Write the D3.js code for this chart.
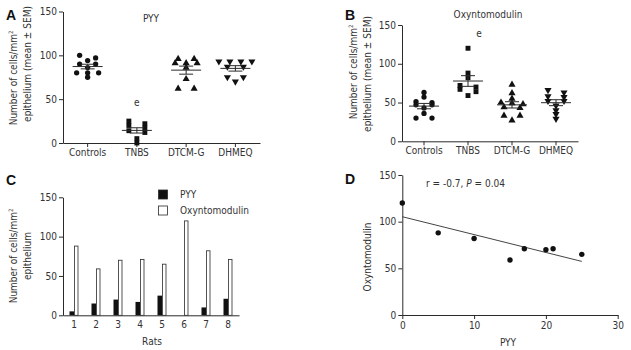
<!doctype html>
<html lang="en">
<head>
<meta charset="utf-8">
<title>PYY and oxyntomodulin</title>
<script src="https://cdn.jsdelivr.net/npm/d3@7"></script>
<style>
  body { margin: 0; background: #fff; }
  svg { display: block; font-family: "DejaVu Sans Condensed", "DejaVu Sans", sans-serif; }
</style>
</head>
<body>
<svg id="chart" width="631" height="350"></svg>
<script>
// group names (panels A, B)
const groups = ["Controls", "TNBS", "DTCM-G", "DHMEQ"];

// PYY cells / mm2 per animal
const pyyControls = [100, 97, 94, 90, 90, 86, 80, 80, 80, 75];
const pyyTnbs = [25, 22, 20, 17, 14, 12, 5, 0];
const pyyDtcmg = [96, 96, 91, 91, 91, 86, 73, 62, 62];
const pyyDhmeq = [93, 93, 93, 93, 87, 87, 75, 75, 70];

// oxyntomodulin cells / mm2 per animal
const oxyControls = [63, 57, 51, 50, 47, 47, 43, 36, 30, 30];
const oxyTnbs = [120, 88, 82, 72, 70, 67, 64, 59];
const oxyDtcmg = [73, 62, 55, 50, 49, 48, 44, 43, 33, 33, 27];
const oxyDhmeq = [66, 63, 58, 57, 52, 52, 46, 40, 35, 29];

// panel C / D : TNBS rats
const rats = ["1", "2", "3", "4", "5", "6", "7", "8"];
const ratPyy = [5, 15, 20, 17, 25, 0, 10, 21];
const ratOxy = [88, 59, 70, 71, 65, 120, 82, 71];

const cellTicks = [0, 50, 100, 150];
const pyyTicks = [0, 10, 20, 30];

const ink = "#2a2a2a";
const txt = "#333";
const fs = 10;

const svg = d3.select("#chart");

function styleAxis(g) {
  g.attr("font-family", null).attr("font-size", null);
  g.selectAll("path, line").attr("stroke", ink);
  g.selectAll("text").attr("fill", txt).attr("font-size", fs);
}

function panelLetter(s, x, y) {
  svg.append("text").attr("x", x).attr("y", y)
    .attr("font-family", "Liberation Sans, Arial, sans-serif")
    .attr("font-weight", "bold").attr("font-size", 14).attr("fill", "#111")
    .text(s);
}

function yLabel(lines) {
  lines.forEach(l => {
    const t = svg.append("text")
      .attr("transform", `translate(${l.x},${l.y}) rotate(-90)`)
      .attr("text-anchor", "middle").attr("font-size", fs).attr("fill", txt);
    if (l.sup) {
      t.append("tspan").text(l.text);
      t.append("tspan").attr("dy", -4).attr("font-size", 6).text("2");
    } else {
      t.text(l.text);
    }
  });
}

// spread points of similar height side by side, like a scatter dot plot
function spread(values, y, cx) {
  const order = values.map((v, i) => i).sort((a, b) => values[b] - values[a]);
  const rows = [];
  order.forEach(i => {
    const last = rows[rows.length - 1];
    if (last && Math.abs(y(values[last[0]]) - y(values[i])) < 3) last.push(i);
    else rows.push([i]);
  });
  const out = [];
  rows.forEach(r => {
    const step = r.length === 2 ? 16 : 11;
    r.forEach((i, k) => out.push({ v: values[i], x: cx + (k - (r.length - 1) / 2) * step }));
  });
  return out;
}

const symbols = [
  { type: d3.symbolCircle, size: 22, rot: 0 },
  { type: d3.symbolSquare, size: 24, rot: 0 },
  { type: d3.symbolTriangle, size: 22, rot: 0 },
  { type: d3.symbolTriangle, size: 22, rot: 180 }
];

function dotPanel(o) {
  const x = d3.scaleBand().domain(groups).range([o.x0, o.x1]);
  const y = d3.scaleLinear().domain([0, 150]).range([o.y0, o.y1]);
  const g = svg.append("g");

  g.append("g").attr("transform", `translate(0,${o.y0})`)
    .call(d3.axisBottom(x).tickSize(4).tickSizeOuter(0).tickPadding(2))
    .call(styleAxis);
  g.append("g").attr("transform", `translate(${o.x0},0)`)
    .call(d3.axisLeft(y).tickValues(cellTicks).tickSize(4).tickSizeOuter(0).tickPadding(2))
    .call(styleAxis);

  o.data.forEach((vals, gi) => {
    const cx = x(groups[gi]) + x.bandwidth() / 2;
    const sym = symbols[gi];
    g.selectAll(null).data(spread(vals, y, cx)).join("path")
      .attr("d", d3.symbol(sym.type, sym.size))
      .attr("transform", d => `translate(${d.x},${y(d.v)}) rotate(${sym.rot})`)
      .attr("fill", "#111");

    const m = d3.mean(vals);
    const sem = d3.deviation(vals) / Math.sqrt(vals.length);
    const bars = g.append("g").attr("stroke", ink).attr("stroke-width", 1);
    bars.append("line").attr("x1", cx - 15).attr("x2", cx + 15).attr("y1", y(m)).attr("y2", y(m));
    bars.append("line").attr("x1", cx).attr("x2", cx).attr("y1", y(m - sem)).attr("y2", y(m + sem));
    [m - sem, m + sem].forEach(v => bars.append("line")
      .attr("x1", cx - 7).attr("x2", cx + 7).attr("y1", y(v)).attr("y2", y(v)));
  });
  return { x, y };
}

// ---- A : PYY
panelLetter("A", 6, 20);
const a = dotPanel({ x0: 63, x1: 260, y0: 143, y1: 11.5, data: [pyyControls, pyyTnbs, pyyDtcmg, pyyDhmeq] });
svg.append("text").attr("x", 151).attr("y", 22).attr("text-anchor", "middle")
  .attr("font-size", fs).attr("fill", txt).text("PYY");
svg.append("text").attr("x", a.x("TNBS") + a.x.bandwidth() / 2).attr("y", a.y(42))
  .attr("text-anchor", "middle").attr("font-size", fs).attr("fill", txt).text("e");
yLabel([
  { x: 17, y: 78, text: "Number of cells/mm", sup: true },
  { x: 31, y: 64, text: "epithelium (mean \u00b1 SEM)" }
]);

// ---- B : oxyntomodulin
panelLetter("B", 345, 20);
const b = dotPanel({ x0: 402, x1: 578, y0: 141.3, y1: 25, data: [oxyControls, oxyTnbs, oxyDtcmg, oxyDhmeq] });
svg.append("text").attr("x", 488).attr("y", 17.5).attr("text-anchor", "middle")
  .attr("font-size", fs).attr("fill", txt).text("Oxyntomodulin");
svg.append("text").attr("x", b.x("TNBS") + b.x.bandwidth() / 2 + 11).attr("y", b.y(134))
  .attr("text-anchor", "middle").attr("font-size", fs).attr("fill", txt).text("e");
yLabel([
  { x: 356.5, y: 72, text: "Number of cells/mm", sup: true },
  { x: 371, y: 74, text: "epithelium (mean \u00b1 SEM)" }
]);

// ---- C : bars per rat
panelLetter("C", 6, 185);
const cx = d3.scaleBand().domain(rats).range([63, 239]);
const cy = d3.scaleLinear().domain([0, 150]).range([315.3, 197.3]);
svg.append("g").attr("transform", "translate(0,315.3)")
  .call(d3.axisBottom(cx).tickSize(0).tickSizeOuter(0).tickPadding(6))
  .call(styleAxis);
svg.append("g").attr("transform", "translate(63,0)")
  .call(d3.axisLeft(cy).tickValues(cellTicks).tickSize(4).tickSizeOuter(0).tickPadding(2))
  .call(styleAxis);
const bw = 4.5;
svg.append("g").selectAll("rect").data(rats).join("rect")
  .attr("x", d => cx(d) + cx.bandwidth() / 2 - bw)
  .attr("y", (d, i) => cy(ratPyy[i]))
  .attr("width", bw).attr("height", (d, i) => cy(0) - cy(ratPyy[i]))
  .attr("fill", "#111");
svg.append("g").selectAll("rect").data(rats).join("rect")
  .attr("x", d => cx(d) + cx.bandwidth() / 2 + 0.5)
  .attr("y", (d, i) => cy(ratOxy[i]))
  .attr("width", bw - 1).attr("height", (d, i) => cy(0) - cy(ratOxy[i]))
  .attr("fill", "#fff").attr("stroke", ink).attr("stroke-width", 0.8);
svg.append("text").attr("x", 152).attr("y", 345).attr("text-anchor", "middle")
  .attr("font-size", fs).attr("fill", txt).text("Rats");
yLabel([
  { x: 17, y: 256, text: "Number of cells/mm", sup: true },
  { x: 31, y: 256, text: "epithelium" }
]);
// legend
const leg = [{ name: "PYY", fill: "#111" }, { name: "Oxyntomodulin", fill: "#fff" }];
leg.forEach((l, i) => {
  svg.append("rect").attr("x", 158.5).attr("y", 190 + i * 16).attr("width", 9).attr("height", 9)
    .attr("fill", l.fill).attr("stroke", ink).attr("stroke-width", 0.8);
  svg.append("text").attr("x", 180).attr("y", 198 + i * 16)
    .attr("font-size", fs).attr("fill", txt).text(l.name);
});

// ---- D : correlation
panelLetter("D", 345, 184);
const dx = d3.scaleLinear().domain([0, 30]).range([402.3, 617.7]);
const dy = d3.scaleLinear().domain([0, 150]).range([315, 175]);
svg.append("g").attr("transform", "translate(0,315)")
  .call(d3.axisBottom(dx).tickValues(pyyTicks).tickSize(4).tickSizeOuter(0).tickPadding(3))
  .call(styleAxis);
svg.append("g").attr("transform", "translate(402.3,0)")
  .call(d3.axisLeft(dy).tickValues(cellTicks).tickSize(4).tickSizeOuter(0).tickPadding(2))
  .call(styleAxis);
// least squares fit through the rat data
const mx = d3.mean(ratPyy), my = d3.mean(ratOxy);
const slope = d3.sum(ratPyy, (v, i) => (v - mx) * (ratOxy[i] - my)) / d3.sum(ratPyy, v => (v - mx) ** 2);
const icpt = my - slope * mx;
const fitX = d3.extent(ratPyy);
svg.append("line")
  .attr("x1", dx(fitX[0])).attr("y1", dy(icpt + slope * fitX[0]))
  .attr("x2", dx(fitX[1])).attr("y2", dy(icpt + slope * fitX[1]))
  .attr("stroke", "#444").attr("stroke-width", 1);
svg.append("g").selectAll("circle").data(ratPyy).join("circle")
  .attr("cx", d => dx(d)).attr("cy", (d, i) => dy(ratOxy[i])).attr("r", 2.7)
  .attr("fill", "#111");
const ann = svg.append("text").attr("x", 426).attr("y", 186.5).attr("font-size", fs).attr("fill", txt);
ann.append("tspan").text("r = -0.7, ");
ann.append("tspan").attr("font-style", "italic").text("P");
ann.append("tspan").text(" = 0.04");
svg.append("text").attr("x", 508).attr("y", 346).attr("text-anchor", "middle")
  .attr("font-size", fs).attr("fill", txt).text("PYY");
svg.append("text").attr("transform", "translate(371,257) rotate(-90)")
  .attr("text-anchor", "middle").attr("font-size", fs).attr("fill", txt).text("Oxyntomodulin");
</script>
</body>
</html>
